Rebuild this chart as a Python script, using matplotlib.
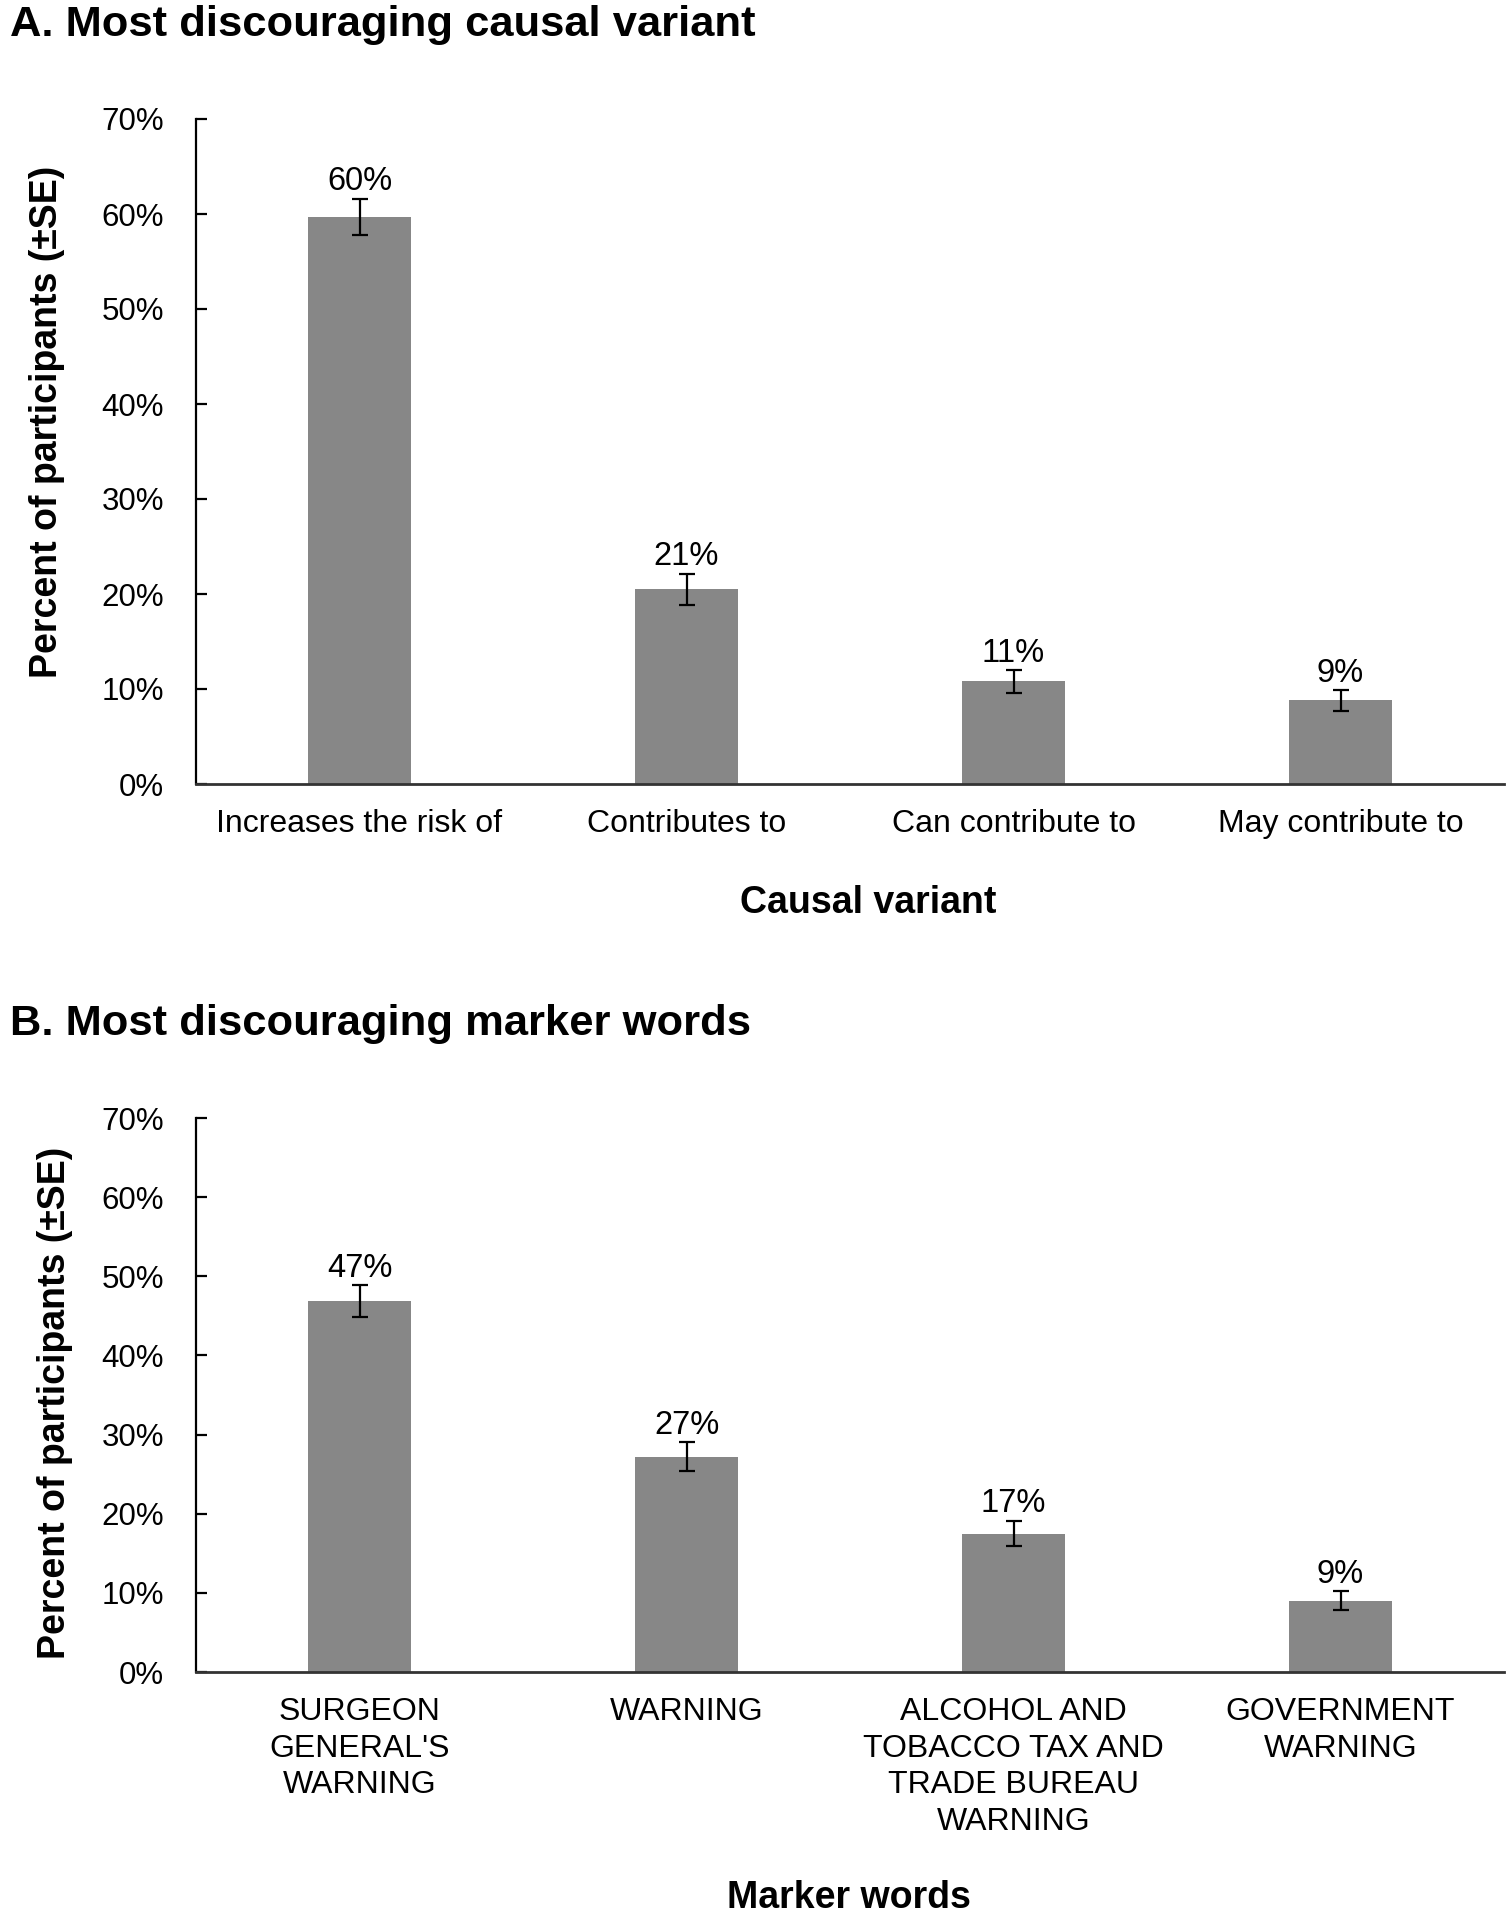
import matplotlib
matplotlib.use("Agg")
import matplotlib.pyplot as plt
from matplotlib.ticker import FuncFormatter, MultipleLocator

plt.rcParams['font.family'] = ['Liberation Sans', 'DejaVu Sans']

# Panel A data
cats_a = ["Increases the risk of", "Contributes to", "Can contribute to", "May contribute to"]
vals_a = [59.7, 20.5, 10.8, 8.8]
se_a = [1.9, 1.65, 1.2, 1.1]
labels_a = ["60%", "21%", "11%", "9%"]

# Panel B data
cats_b = ["SURGEON\nGENERAL'S\nWARNING", "WARNING",
          "ALCOHOL AND\nTOBACCO TAX AND\nTRADE BUREAU\nWARNING", "GOVERNMENT\nWARNING"]
vals_b = [46.9, 27.2, 17.5, 9.0]
se_b = [2.0, 1.8, 1.6, 1.2]
labels_b = ["47%", "27%", "17%", "9%"]

W, H = 1509, 1920
fig = plt.figure(figsize=(W / 100, H / 100), dpi=100)

BAR = "#878787"
AX = "#333333"


def panel(rect, cats, vals, se, labels, title, xlabel, title_y, xlabel_xy, ylab_xy):
    ax = fig.add_axes(rect)
    x = list(range(len(cats)))
    ax.bar(x, vals, width=0.315, color=BAR, zorder=2)
    ax.errorbar(x, vals, yerr=se, fmt='none', ecolor='black', elinewidth=1.6,
                capsize=6, capthick=1.6, zorder=3)
    for xi, v, s, lab in zip(x, vals, se, labels):
        ax.annotate(lab, (xi, v + s), xytext=(0, 1), textcoords='offset points',
                    ha='center', va='bottom', fontsize=23.5)
    ax.set_xlim(-0.5, 3.5)
    ax.set_ylim(0, 70)
    ax.yaxis.set_major_locator(MultipleLocator(10))
    ax.yaxis.set_major_formatter(FuncFormatter(lambda v, p: f"{v:.0f}%"))
    ax.set_xticks(x)
    ax.set_xticklabels(cats, fontsize=23, linespacing=1.29)
    ax.tick_params(axis='x', length=0, pad=18)
    ax.tick_params(axis='y', labelsize=22.5, direction='in', length=8, width=1.6,
                   color='black', pad=23)
    for s in ['top', 'right']:
        ax.spines[s].set_visible(False)
    ax.spines['left'].set_color('black')
    ax.spines['left'].set_linewidth(1.6)
    ax.spines['bottom'].set_color(AX)
    ax.spines['bottom'].set_linewidth(2.0)
    ax.set_ylabel("Percent of participants (±SE)", fontsize=27, fontweight='bold')
    ax.yaxis.set_label_coords(*ylab_xy)
    fig.text(10 / W, 1 - title_y / H, title, fontsize=31.3, fontweight='bold',
             ha='left', va='center')
    fig.text(xlabel_xy[0] / W, 1 - xlabel_xy[1] / H, xlabel, fontsize=27,
             fontweight='bold', ha='center', va='center')
    return ax


left = 196 / W
width = (1504 - 196) / W

panel([left, 1 - 784 / H, width, (784 - 119) / H], cats_a, vals_a, se_a, labels_a,
      "A. Most discouraging causal variant", "Causal variant", 25, (868, 903),
      (-0.1, 0.545))
panel([left, 1 - 1672 / H, width, (1672 - 1118) / H], cats_b, vals_b, se_b, labels_b,
      "B. Most discouraging marker words", "Marker words", 1024, (849, 1898),
      (-0.094, 0.485))

fig.savefig("out.png", dpi=100, facecolor='white')
